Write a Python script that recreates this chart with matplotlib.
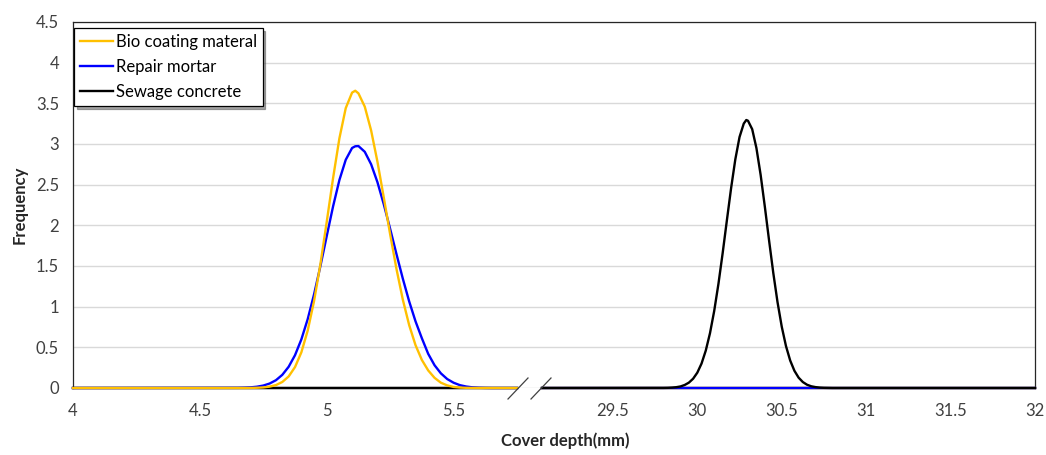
import matplotlib.pyplot as plt
from matplotlib.lines import Line2D

plt.rcParams['font.family'] = ['Lato', 'DejaVu Sans']

# cover depth (mm) sampled along the curves, left part of the broken axis
depth_left = [4.0, 4.65, 4.675, 4.7, 4.725, 4.75, 4.775, 4.8, 4.825, 4.85, 4.875,
              4.9, 4.925, 4.95, 4.975, 5.0, 5.025, 5.05, 5.075, 5.1, 5.1125, 5.125,
              5.15, 5.175, 5.2, 5.225, 5.25, 5.275, 5.3, 5.325, 5.35, 5.375,
              5.4, 5.425, 5.45, 5.475, 5.5, 5.525, 5.55, 5.575, 5.6, 5.625, 5.65, 5.75]

bio_coating = [0, 0, 0, 0.001, 0.003, 0.007, 0.017, 0.036, 0.074, 0.142, 0.257,
               0.438, 0.705, 1.067, 1.52, 2.041, 2.579, 3.07, 3.441, 3.632, 3.655, 3.623,
               3.459, 3.167, 2.781, 2.341, 1.89, 1.463, 1.086, 0.773, 0.527, 0.345,
               0.216, 0.125, 0.065, 0.032, 0.013, 0.005, 0.002, 0.001, 0, 0, 0, 0]

repair_mortar = [0, 0.002, 0.004, 0.008, 0.016, 0.03, 0.055, 0.096, 0.162, 0.261, 0.403,
                 0.597, 0.846, 1.15, 1.497, 1.867, 2.232, 2.557, 2.806, 2.951, 2.972, 2.975,
                 2.904, 2.751, 2.53, 2.258, 1.957, 1.646, 1.344, 1.065, 0.82, 0.612,
                 0.42, 0.28, 0.18, 0.11, 0.065, 0.035, 0.018, 0.008, 0.003, 0.001, 0, 0]

# right part of the broken axis
depth_right = [29.08, 29.8, 29.825, 29.85, 29.875, 29.9, 29.925, 29.95, 29.975, 30.0,
               30.025, 30.05, 30.075, 30.1, 30.125, 30.15, 30.175, 30.2, 30.225,
               30.25, 30.275, 30.29, 30.3, 30.325, 30.35, 30.375, 30.4, 30.425, 30.45,
               30.475, 30.5, 30.525, 30.55, 30.575, 30.6, 30.625, 30.65, 30.675,
               30.7, 30.725, 30.75, 30.775, 30.8, 32.0]

sewage_concrete = [0, 0.001, 0.002, 0.005, 0.01, 0.019, 0.037, 0.066, 0.114, 0.189,
                   0.301, 0.46, 0.674, 0.948, 1.28, 1.658, 2.061, 2.457, 2.811,
                   3.086, 3.251, 3.295, 3.286, 3.182, 2.95, 2.62, 2.227, 1.813, 1.413,
                   1.055, 0.754, 0.516, 0.338, 0.212, 0.127, 0.073, 0.04, 0.021,
                   0.011, 0.005, 0.002, 0.001, 0, 0]

ticks_left = [4, 4.5, 5, 5.5]
ticks_right = [29.5, 30, 30.5, 31, 31.5, 32]
y_ticks = [0, 0.5, 1, 1.5, 2, 2.5, 3, 3.5, 4, 4.5]

W, H = 1046, 455
x0, x1, x2, x3 = 73, 517, 542, 1035
ytop, ybot = 22, 388

fig = plt.figure(figsize=(W / 100, H / 100), dpi=100)
fb = 1 - ybot / H
fh = (ybot - ytop) / H

# background: frame, grid and y axis
bg = fig.add_axes([x0 / W, fb, (x3 - x0) / W, fh])
bg.set_xlim(0, 1)
bg.set_ylim(0, 4.5)
bg.set_yticks(y_ticks)
bg.set_yticklabels(['0', '0.5', '1', '1.5', '2', '2.5', '3', '3.5', '4', '4.5'])
bg.set_xticks([])
bg.grid(axis='y', color='#d9d9d9', lw=1)
bg.tick_params(axis='y', length=0, pad=10, labelsize=12, labelcolor='#404040')
for s in ['left', 'right', 'top']:
    bg.spines[s].set_color('#262626')
    bg.spines[s].set_linewidth(0.9)
bg.spines['bottom'].set_visible(False)

ax1 = fig.add_axes([x0 / W, fb, (x1 - x0) / W, fh])
ax2 = fig.add_axes([x2 / W, fb, (x3 - x2) / W, fh])

for ax in (ax1, ax2):
    ax.patch.set_alpha(0)
    ax.set_ylim(0, 4.5)
    ax.set_yticks([])
    for s in ['left', 'right', 'top']:
        ax.spines[s].set_visible(False)
    ax.spines['bottom'].set_color('black')
    ax.spines['bottom'].set_linewidth(1.6)
    ax.tick_params(axis='x', length=0, pad=11, labelsize=12, labelcolor='#404040')

ax1.set_xlim(4, 5.75)
ax1.set_xticks(ticks_left)
ax1.set_xticklabels(['4', '4.5', '5', '5.5'])
ax1.plot([4, 5.75], [0, 0], color='black', lw=1.7, clip_on=False)
l3, = ax2.plot(depth_right, sewage_concrete, color='black', lw=1.7, clip_on=False, zorder=4)
l2, = ax1.plot(depth_left, repair_mortar, color='#0000ff', lw=1.7, clip_on=False, zorder=3)
l1, = ax1.plot(depth_left, bio_coating, color='#ffc000', lw=1.7, clip_on=False, zorder=4)

ax2.set_xlim(29.08, 32)
ax2.set_xticks(ticks_right)
ax2.set_xticklabels(['29.5', '30', '30.5', '31', '31.5', '32'])
ax2.plot([29.08, 32], [0, 0], color='#ffc000', lw=1.7, clip_on=False, zorder=2)
ax2.plot([29.08, 32], [0, 0], color='#0000ff', lw=1.7, clip_on=False, zorder=3)

# break marks
for cx in (518, 541):
    fig.add_artist(Line2D([(cx - 10) / W, (cx + 10) / W],
                          [1 - 399 / H, 1 - 378 / H], color='#404040', lw=0.9))

fig.text(565 / W, 1 - 441 / H, 'Cover depth(mm)', ha='center', va='center',
         fontsize=12, fontweight='bold', color='#262626')
fig.text(20 / W, 1 - 205 / H, 'Frequency', ha='center', va='center', rotation=90,
         fontsize=12, fontweight='bold', color='#262626')

leg = fig.legend([l1, l2, l3], ['Bio coating materal', 'Repair mortar', 'Sewage concrete'],
                 loc='upper left', bbox_to_anchor=(74 / W, 1 - 28 / H),
                 fontsize=12, frameon=True, fancybox=False, shadow=True,
                 edgecolor='black', handlelength=2.0, handletextpad=0.15,
                 labelspacing=0.55, borderpad=0.35, borderaxespad=0)
leg.get_frame().set_linewidth(0.9)

fig.savefig('out.png', dpi=100)
